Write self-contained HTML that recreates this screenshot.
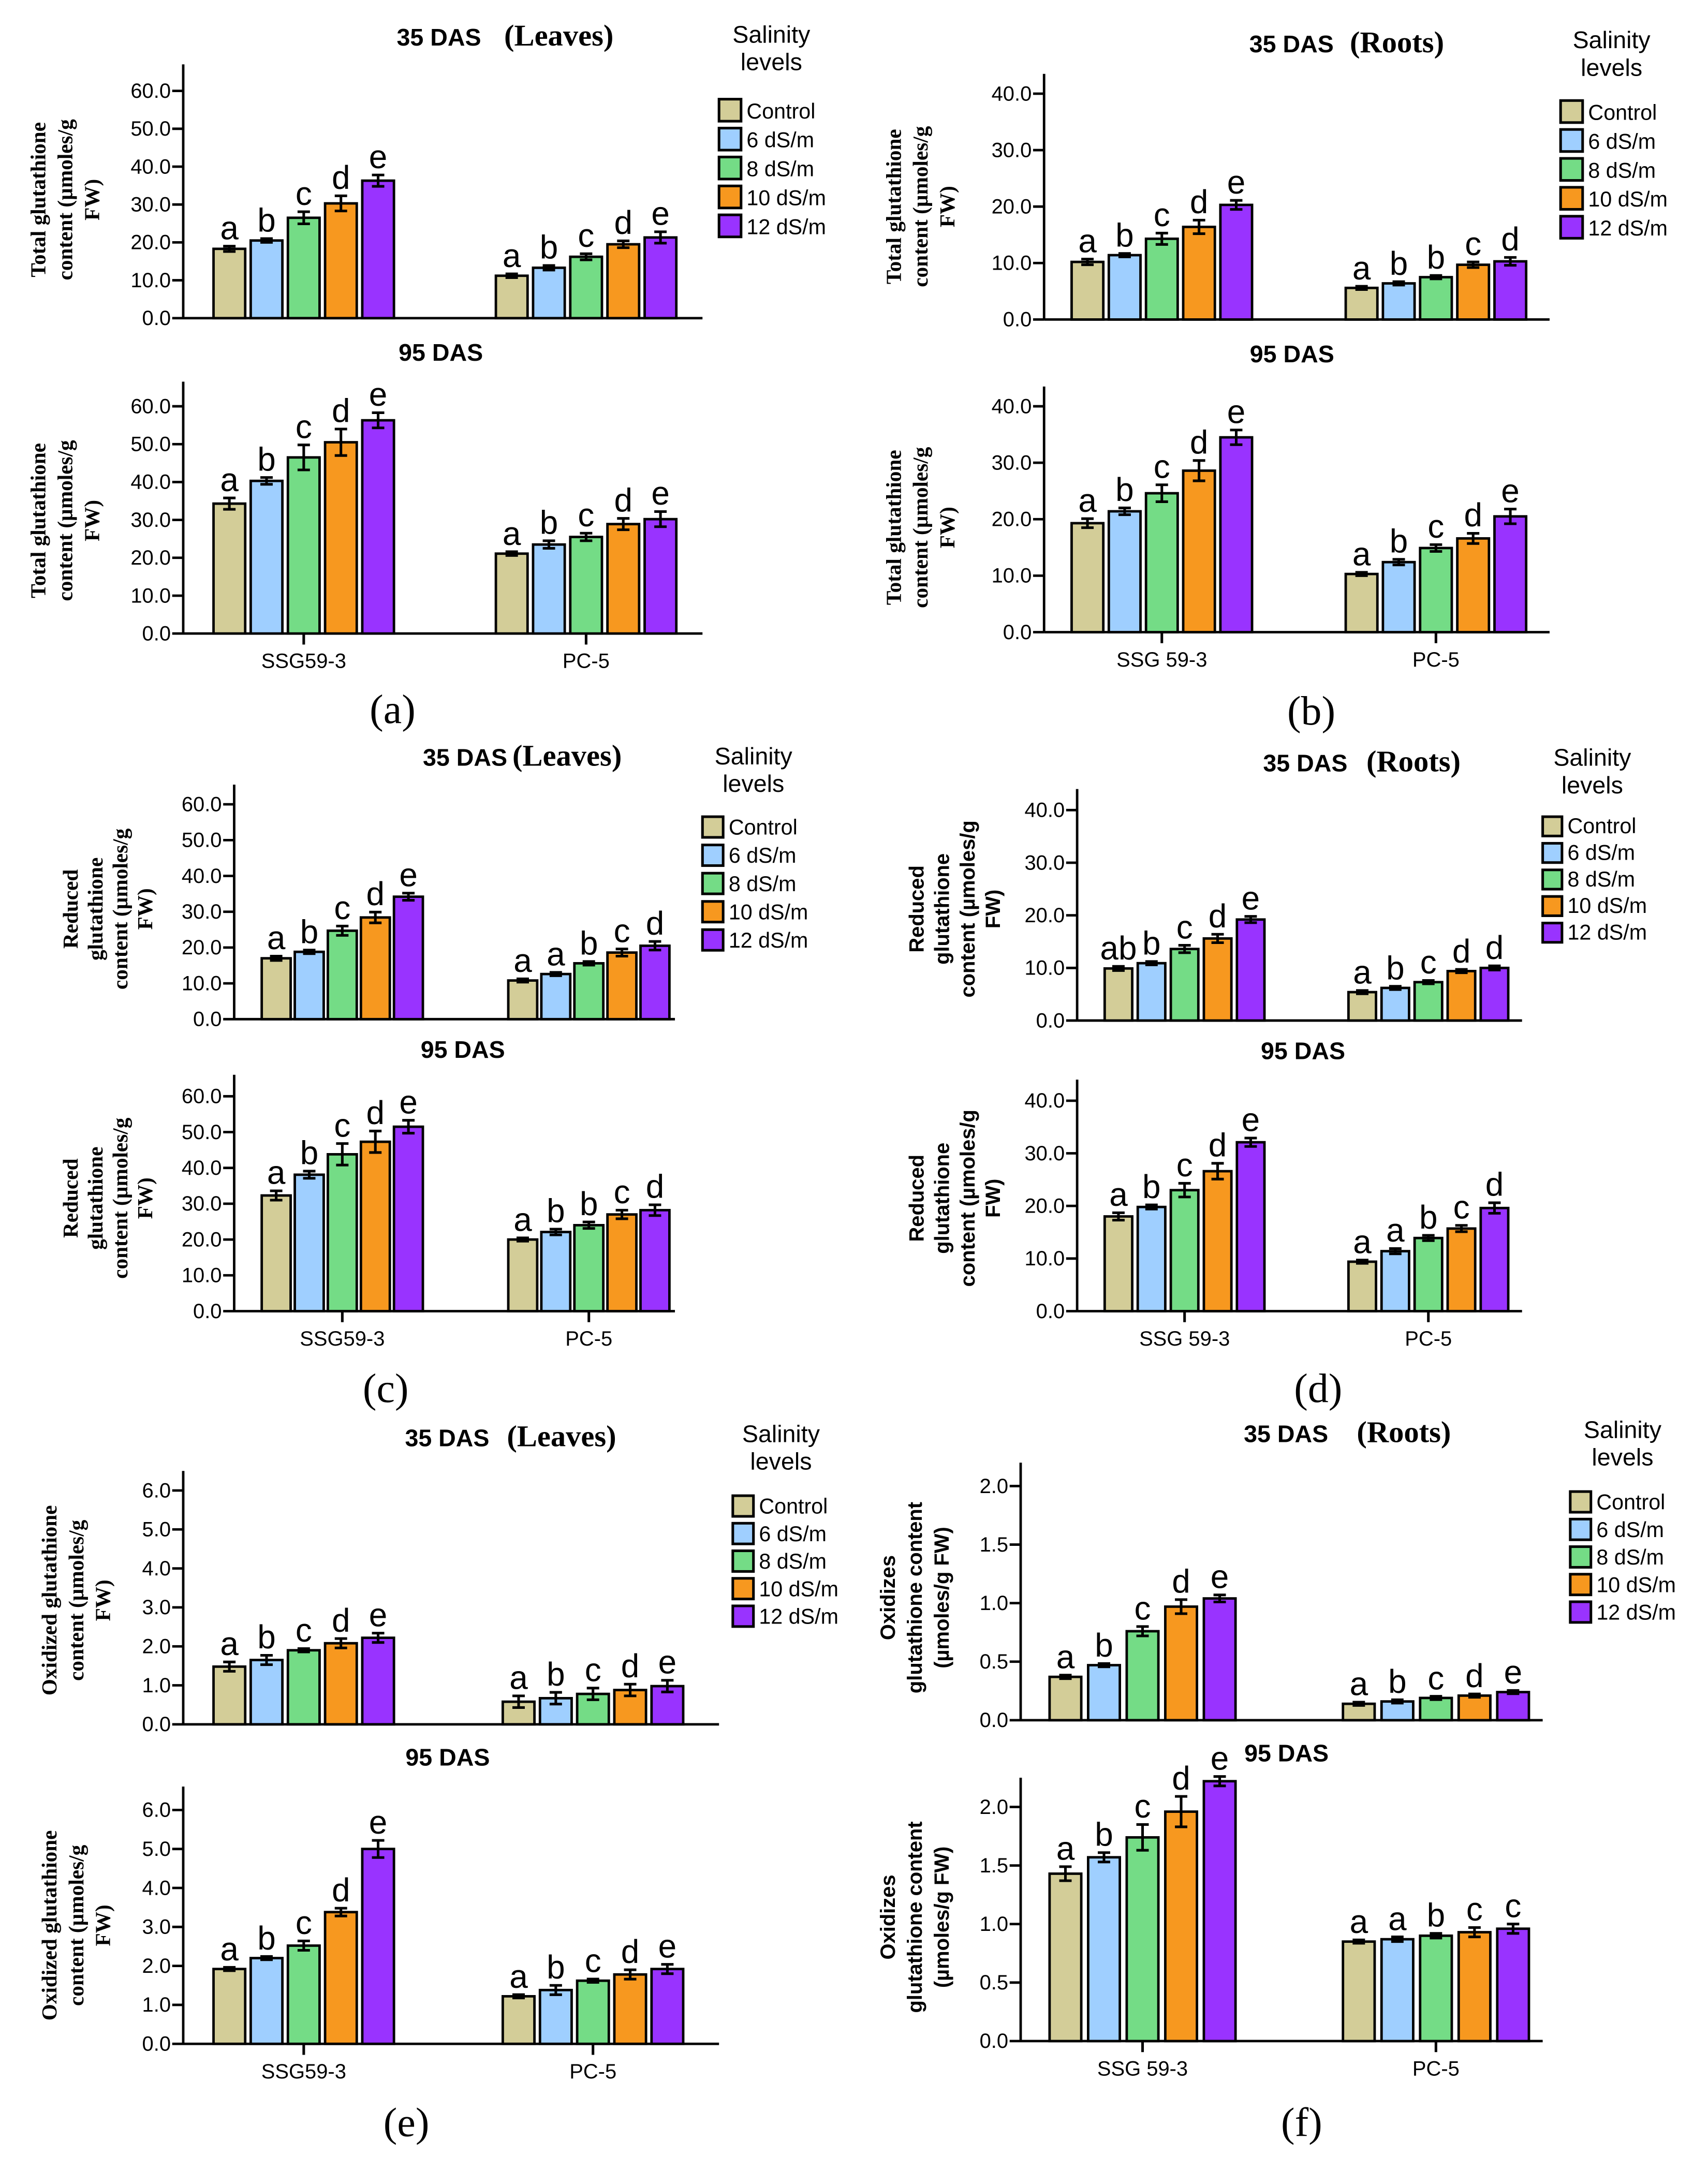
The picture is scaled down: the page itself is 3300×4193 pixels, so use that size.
<!DOCTYPE html>
<html><head><meta charset="utf-8"><style>
html,body{margin:0;padding:0;background:#fff}
svg{display:block}
</style></head><body>
<svg id="fig" xmlns="http://www.w3.org/2000/svg" width="3300" height="4193" viewBox="0 0 1240 1575.6"></svg>
<script>
// ---- data ----
const categories = ["SSG59-3", "PC-5"];
const salinityLevels = ["Control", "6 dS/m", "8 dS/m", "10 dS/m", "12 dS/m"];
// panel a: total glutathione leaves
const aTopSSG = [18.3, 20.5, 26.5, 30.3, 36.3];
const aTopPC = [11.2, 13.3, 16.2, 19.5, 21.3];
const aTopErrSSG = [0.7, 0.5, 1.6, 2.0, 1.5];
const aTopErrPC = [0.5, 0.6, 0.8, 0.9, 1.5];
const aBotSSG = [34.3, 40.3, 46.5, 50.5, 56.3];
const aBotPC = [21.1, 23.5, 25.5, 28.9, 30.2];
const aBotErrSSG = [1.5, 0.9, 3.3, 3.5, 2.0];
const aBotErrPC = [0.5, 1.0, 1.0, 1.5, 2.0];
// panel b: total glutathione roots
const bTopSSG = [10.2, 11.4, 14.3, 16.4, 20.3];
const bTopPC = [5.6, 6.4, 7.5, 9.7, 10.3];
const bTopErrSSG = [0.5, 0.3, 1.0, 1.2, 0.8];
const bTopErrPC = [0.2, 0.3, 0.3, 0.5, 0.7];
const bBotSSG = [19.3, 21.4, 24.6, 28.6, 34.5];
const bBotPC = [10.3, 12.4, 14.9, 16.6, 20.5];
const bBotErrSSG = [0.8, 0.6, 1.5, 1.8, 1.3];
const bBotErrPC = [0.2, 0.5, 0.6, 0.9, 1.3];
// panel c: reduced glutathione leaves
const cTopSSG = [17.0, 18.8, 24.7, 28.4, 34.2];
const cTopPC = [10.8, 12.6, 15.6, 18.6, 20.5];
const cTopErrSSG = [0.6, 0.5, 1.3, 1.5, 1.0];
const cTopErrPC = [0.3, 0.4, 0.5, 1.0, 1.2];
const cBotSSG = [32.3, 38.1, 43.8, 47.3, 51.5];
const cBotPC = [20.0, 22.1, 24.0, 27.0, 28.2];
const cBotErrSSG = [1.3, 1.0, 3.0, 3.0, 1.8];
const cBotErrPC = [0.4, 0.8, 0.9, 1.2, 1.5];
// panel d: reduced glutathione roots
const dTopSSG = [9.9, 10.9, 13.6, 15.6, 19.2];
const dTopPC = [5.4, 6.2, 7.3, 9.4, 10.0];
const dTopErrSSG = [0.4, 0.2, 0.7, 0.8, 0.6];
const dTopErrPC = [0.2, 0.2, 0.3, 0.3, 0.4];
const dBotSSG = [18.0, 19.8, 23.0, 26.6, 32.1];
const dBotPC = [9.4, 11.4, 13.9, 15.7, 19.6];
const dBotErrSSG = [0.7, 0.4, 1.3, 1.5, 0.8];
const dBotErrPC = [0.2, 0.5, 0.5, 0.6, 1.0];
// panel e: oxidized glutathione leaves
const eTopSSG = [1.48, 1.65, 1.90, 2.08, 2.22];
const eTopPC = [0.58, 0.67, 0.78, 0.88, 0.98];
const eTopErrSSG = [0.12, 0.12, 0.0, 0.12, 0.12];
const eTopErrPC = [0.15, 0.15, 0.15, 0.15, 0.15];
const eBotSSG = [1.92, 2.20, 2.52, 3.38, 5.00];
const eBotPC = [1.22, 1.38, 1.62, 1.78, 1.92];
const eBotErrSSG = [0.0, 0.0, 0.12, 0.1, 0.22];
const eBotErrPC = [0.0, 0.12, 0.0, 0.12, 0.12];
// panel f: oxidized glutathione roots
const fTopSSG = [0.37, 0.47, 0.76, 0.97, 1.04];
const fTopPC = [0.14, 0.16, 0.19, 0.21, 0.24];
const fTopErrSSG = [0.015, 0.01, 0.04, 0.06, 0.03];
const fTopErrPC = [0.005, 0.005, 0.01, 0.01, 0.01];
const fBotSSG = [1.43, 1.57, 1.74, 1.96, 2.22];
const fBotPC = [0.85, 0.87, 0.90, 0.93, 0.96];
const fBotErrSSG = [0.06, 0.04, 0.11, 0.13, 0.04];
const fBotErrPC = [0.01, 0.02, 0.02, 0.04, 0.04];
// significance letters
const lettersStd = [["a","b","c","d","e"],["a","b","c","d","e"]];
const bTopLetters = [["a","b","c","d","e"],["a","b","b","c","d"]];
const cTopLetters = [["a","b","c","d","e"],["a","a","b","c","d"]];
const cBotLetters = [["a","b","c","d","e"],["a","b","b","c","d"]];
const dTopLetters = [["ab","b","c","d","e"],["a","b","c","d","d"]];
const dBotLetters = [["a","b","c","d","e"],["a","a","b","c","d"]];
const fBotLetters = [["a","b","c","d","e"],["a","a","b","c","c"]];
// tick labels
const ticks60 = [0, 10, 20, 30, 40, 50, 60];
const ticks40 = [0, 10, 20, 30, 40];
const ticks6 = [0, 1, 2, 3, 4, 5, 6];
const ticks2 = [0, 0.5, 1.0, 1.5, 2.0];

// ---- layout (styles/positions) ----
const colors = ["#d3cd98", "#9fcfff", "#74dc86", "#f7981f", "#9933ff"];
const NS = "http://www.w3.org/2000/svg";
const svg = document.getElementById("fig");
function mk(tag, attrs, parent) {
  const e = document.createElementNS(NS, tag);
  for (const k in attrs) e.setAttribute(k, attrs[k]);
  (parent || svg).appendChild(e);
  return e;
}
const SANS = '"Liberation Sans", Arial, sans-serif';
const SERIF = '"Liberation Serif", "Times New Roman", serif';

function chart(o) {
  const g = mk("g", {});
  
  
  const yScale = v => o.y0 - (v / o.tickStep) * o.unitPx;
  const yTop = yScale(o.maxAxis);
  const ya = mk("line", {x1: o.ax, y1: yTop, x2: o.ax, y2: o.y0, stroke: "#000", "stroke-width": 1.8}, g);
  
  
  const xa = mk("line", {x1: o.ax, y1: o.y0, x2: o.xEnd, y2: o.y0, stroke: "#000", "stroke-width": 1.8}, g);
  
  
  o.ticks.forEach(t => {
    const y = yScale(t);
    const tl = mk("line", {x1: o.ax - 8, y1: y, x2: o.ax, y2: y, stroke: "#000", "stroke-width": 1.8}, g);
    
    
    const tx = mk("text", {x: o.ax - 9, y: y + 5, "text-anchor": "end", "font-family": SANS, "font-size": 15}, g);
    
    
    tx.textContent = t.toFixed(1);
  });
  const series = [o.ssg, o.pc], errs = [o.essg, o.epc];
  for (let gi = 0; gi < 2; gi++) {
    for (let i = 0; i < 5; i++) {
      const x = o.gx[gi] + i * o.step;
      const v = series[gi][i];
      const y = yScale(v);
      const r = mk("rect", {x: x, y: y, width: o.bw, height: o.y0 - y, fill: colors[i], stroke: "#000", "stroke-width": 1.8}, g);
      
      
      const e = errs[gi][i];
      const cx = x + o.bw / 2;
      const eg = mk("g", {stroke: "#000", "stroke-width": 1.9}, g);
      
      
      const eh = Math.max(e / o.tickStep * o.unitPx, 1.2);
      mk("line", {x1: cx, y1: y - eh, x2: cx, y2: y + eh}, eg);
      mk("line", {x1: cx - 4.5, y1: y - eh, x2: cx + 4.5, y2: y - eh}, eg);
      mk("line", {x1: cx - 4.5, y1: y + eh, x2: cx + 4.5, y2: y + eh}, eg);
      const lt = mk("text", {x: cx, y: y - eh - 5, "text-anchor": "middle", "font-family": SANS, "font-size": 24}, g);
      
      
      lt.textContent = o.letters[gi][i];
    }
    if (o.catLabels) {
      const cxg = o.gx[gi] + (4 * o.step + o.bw) / 2;
      const tk = mk("line", {x1: cxg, y1: o.y0, x2: cxg, y2: o.y0 + 8, stroke: "#000", "stroke-width": 1.9}, g);
      
      
      const cl = mk("text", {x: cxg, y: o.y0 + 25, "text-anchor": "middle", "font-family": SANS, "font-size": 15}, g);
      
      
      cl.textContent = o.catLabels[gi];
    }
  }
  const yt = mk("text", {transform: `translate(${o.yt.cx},${o.yt.cy}) rotate(-90)`, "text-anchor": "middle", "font-family": o.yt.serif ? SERIF : SANS, "font-weight": "bold", "font-size": o.yt.fs}, g);
  
  
  const n = o.yt.lines.length;
  o.yt.lines.forEach((l, i) => {
    const ts = mk("tspan", {x: 0, y: (i - (n - 1) / 2) * o.yt.lh + o.yt.fs * 0.35}, yt);
    ts.textContent = l;
  });
}

function text(x, y, s, opts, name) {
  const t = mk("text", Object.assign({x: x, y: y, "font-family": SANS, "font-size": 16}, opts));
  
  
  t.textContent = s;
  return t;
}
function title(x1, x2, y, organ, name) {
  text(x1, y, "35 DAS", {"font-weight": "bold", "font-size": 17.5}, name + '-das');
  text(x2, y, "(" + organ + ")", {"font-family": SERIF, "font-weight": "bold", "font-size": 22}, name + '-organ');
}
function legend(tx, ty, bx, by, sp, bs, name) {
  const g = mk("g", {});
  
  
  const a = mk("text", {x: tx, y: ty, "text-anchor": "middle", "font-family": SANS, "font-size": 17.5}, g); a.textContent = "Salinity";
  const b = mk("text", {x: tx, y: ty + 20, "text-anchor": "middle", "font-family": SANS, "font-size": 17.5}, g); b.textContent = "levels";
  salinityLevels.forEach((s, i) => {
    const r = mk("rect", {x: bx, y: by + i * sp, width: bs, height: bs, fill: colors[i], stroke: "#000", "stroke-width": 1.9}, g);
    
    
    const t = mk("text", {x: bx + bs + 4, y: by + i * sp + bs - 2, "font-family": SANS, "font-size": 15.5}, g);
    
    
    t.textContent = s;
  });
}

const ytTot = ["Total glutathione", "content (µmoles/g", "FW)"];
const ytRed = ["Reduced", "glutathione", "content (µmoles/g", "FW)"];
const ytOxL = ["Oxidized glutathione", "content (µmoles/g", "FW)"];
const ytOxR = ["Oxidizes", "glutathione content", "(µmoles/g FW)"];

// panel a
title(288, 366, 33, "Leaves", 'title-a');
legend(560, 31, 522, 72, 21, 16, 'legend-a');
text(320, 262, "95 DAS", {"font-weight": "bold", "font-size": 17.5, "text-anchor": "middle"}, 'title-a-95');
chart({name: 'chart-a-35', ax: 133, y0: 231, unitPx: 27.5, tickStep: 10, maxAxis: 67, xEnd: 510, ticks: ticks60, gx: [155, 360], bw: 23, step: 27, ssg: aTopSSG, pc: aTopPC, essg: aTopErrSSG, epc: aTopErrPC, letters: lettersStd, yt: {cx: 47, cy: 145, lines: ytTot, serif: true, fs: 15.5, lh: 19.5}});
chart({name: 'chart-a-95', ax: 133, y0: 460, unitPx: 27.5, tickStep: 10, maxAxis: 66.5, xEnd: 510, ticks: ticks60, gx: [155, 360], bw: 23, step: 27, ssg: aBotSSG, pc: aBotPC, essg: aBotErrSSG, epc: aBotErrPC, letters: lettersStd, catLabels: ["SSG59-3", "PC-5"], yt: {cx: 47, cy: 378, lines: ytTot, serif: true, fs: 15.5, lh: 19.5}});
text(285, 525, "(a)", {"font-family": SERIF, "font-size": 30, "text-anchor": "middle"}, 'panel-label-a');

// panel b
title(907, 980, 38, "Roots", 'title-b');
legend(1170, 35, 1133, 73, 21, 16, 'legend-b');
text(938, 263, "95 DAS", {"font-weight": "bold", "font-size": 17.5, "text-anchor": "middle"}, 'title-b-95');
chart({name: 'chart-b-35', ax: 758, y0: 232, unitPx: 41, tickStep: 10, maxAxis: 43.5, xEnd: 1125, ticks: ticks40, gx: [778, 977], bw: 23, step: 27, ssg: bTopSSG, pc: bTopPC, essg: bTopErrSSG, epc: bTopErrPC, letters: bTopLetters, yt: {cx: 668, cy: 150, lines: ytTot, serif: true, fs: 15.5, lh: 19.5}});
chart({name: 'chart-b-95', ax: 758, y0: 459, unitPx: 41, tickStep: 10, maxAxis: 43.5, xEnd: 1125, ticks: ticks40, gx: [778, 977], bw: 23, step: 27, ssg: bBotSSG, pc: bBotPC, essg: bBotErrSSG, epc: bBotErrPC, letters: lettersStd, catLabels: ["SSG 59-3", "PC-5"], yt: {cx: 668, cy: 383, lines: ytTot, serif: true, fs: 15.5, lh: 19.5}});
text(952, 526, "(b)", {"font-family": SERIF, "font-size": 30, "text-anchor": "middle"}, 'panel-label-b');

// panel c
title(307, 372, 556, "Leaves", 'title-c');
legend(547, 555, 510, 593, 20.5, 15, 'legend-c');
text(336, 768, "95 DAS", {"font-weight": "bold", "font-size": 17.5, "text-anchor": "middle"}, 'title-c-95');
chart({name: 'chart-c-35', ax: 170, y0: 740, unitPx: 26, tickStep: 10, maxAxis: 65.5, xEnd: 490, ticks: ticks60, gx: [190, 369], bw: 21, step: 24, ssg: cTopSSG, pc: cTopPC, essg: cTopErrSSG, epc: cTopErrPC, letters: cTopLetters, yt: {cx: 78, cy: 660, lines: ytRed, serif: true, fs: 15.5, lh: 18}});
chart({name: 'chart-c-95', ax: 170, y0: 952, unitPx: 26, tickStep: 10, maxAxis: 66, xEnd: 490, ticks: ticks60, gx: [190, 369], bw: 21, step: 24, ssg: cBotSSG, pc: cBotPC, essg: cBotErrSSG, epc: cBotErrPC, letters: cBotLetters, catLabels: ["SSG59-3", "PC-5"], yt: {cx: 78, cy: 870, lines: ytRed, serif: true, fs: 15.5, lh: 18}});
text(280, 1018, "(c)", {"font-family": SERIF, "font-size": 30, "text-anchor": "middle"}, 'panel-label-c');

// panel d
title(917, 992, 560, "Roots", 'title-d');
legend(1156, 556, 1120, 593, 19.3, 14, 'legend-d');
text(946, 769, "95 DAS", {"font-weight": "bold", "font-size": 17.5, "text-anchor": "middle"}, 'title-d-95');
chart({name: 'chart-d-35', ax: 782, y0: 741, unitPx: 38.2, tickStep: 10, maxAxis: 44, xEnd: 1105, ticks: ticks40, gx: [802, 979], bw: 20, step: 24, ssg: dTopSSG, pc: dTopPC, essg: dTopErrSSG, epc: dTopErrPC, letters: dTopLetters, yt: {cx: 693, cy: 660, lines: ytRed, serif: false, fs: 15, lh: 18.5}});
chart({name: 'chart-d-95', ax: 782, y0: 952, unitPx: 38.2, tickStep: 10, maxAxis: 44, xEnd: 1105, ticks: ticks40, gx: [802, 979], bw: 20, step: 24, ssg: dBotSSG, pc: dBotPC, essg: dBotErrSSG, epc: dBotErrPC, letters: dBotLetters, catLabels: ["SSG 59-3", "PC-5"], yt: {cx: 693, cy: 870, lines: ytRed, serif: false, fs: 15, lh: 18.5}});
text(957, 1018, "(d)", {"font-family": SERIF, "font-size": 30, "text-anchor": "middle"}, 'panel-label-d');

// panel e
title(294, 368, 1050, "Leaves", 'title-e');
legend(567, 1047, 532, 1086, 20, 15, 'legend-e');
text(325, 1282, "95 DAS", {"font-weight": "bold", "font-size": 17.5, "text-anchor": "middle"}, 'title-e-95');
chart({name: 'chart-e-35', ax: 133, y0: 1252, unitPx: 28.3, tickStep: 1, maxAxis: 6.5, xEnd: 522, ticks: ticks6, gx: [155, 365], bw: 23, step: 27, ssg: eTopSSG, pc: eTopPC, essg: eTopErrSSG, epc: eTopErrPC, letters: lettersStd, yt: {cx: 55, cy: 1162, lines: ytOxL, serif: true, fs: 15.5, lh: 19.5}});
chart({name: 'chart-e-95', ax: 133, y0: 1484, unitPx: 28.3, tickStep: 1, maxAxis: 6.6, xEnd: 522, ticks: ticks6, gx: [155, 365], bw: 23, step: 27, ssg: eBotSSG, pc: eBotPC, essg: eBotErrSSG, epc: eBotErrPC, letters: lettersStd, catLabels: ["SSG59-3", "PC-5"], yt: {cx: 55, cy: 1398, lines: ytOxL, serif: true, fs: 15.5, lh: 19.5}});
text(295, 1551, "(e)", {"font-family": SERIF, "font-size": 30, "text-anchor": "middle"}, 'panel-label-e');

// panel f
title(903, 985, 1047, "Roots", 'title-f');
legend(1178, 1044, 1140, 1083, 20, 15, 'legend-f');
text(934, 1279, "95 DAS", {"font-weight": "bold", "font-size": 17.5, "text-anchor": "middle"}, 'title-f-95');
chart({name: 'chart-f-35', ax: 741, y0: 1249, unitPx: 42.5, tickStep: 0.5, maxAxis: 2.2, xEnd: 1120, ticks: ticks2, gx: [762, 975], bw: 23, step: 28, ssg: fTopSSG, pc: fTopPC, essg: fTopErrSSG, epc: fTopErrPC, letters: lettersStd, yt: {cx: 664, cy: 1160, lines: ytOxR, serif: false, fs: 15, lh: 19.5}});
chart({name: 'chart-f-95', ax: 741, y0: 1482, unitPx: 42.5, tickStep: 0.5, maxAxis: 2.25, xEnd: 1120, ticks: ticks2, gx: [762, 975], bw: 23, step: 28, ssg: fBotSSG, pc: fBotPC, essg: fBotErrSSG, epc: fBotErrPC, letters: fBotLetters, catLabels: ["SSG 59-3", "PC-5"], yt: {cx: 664, cy: 1392, lines: ytOxR, serif: false, fs: 15, lh: 19.5}});
text(945, 1551, "(f)", {"font-family": SERIF, "font-size": 30, "text-anchor": "middle"}, 'panel-label-f');
</script>
</body></html>
